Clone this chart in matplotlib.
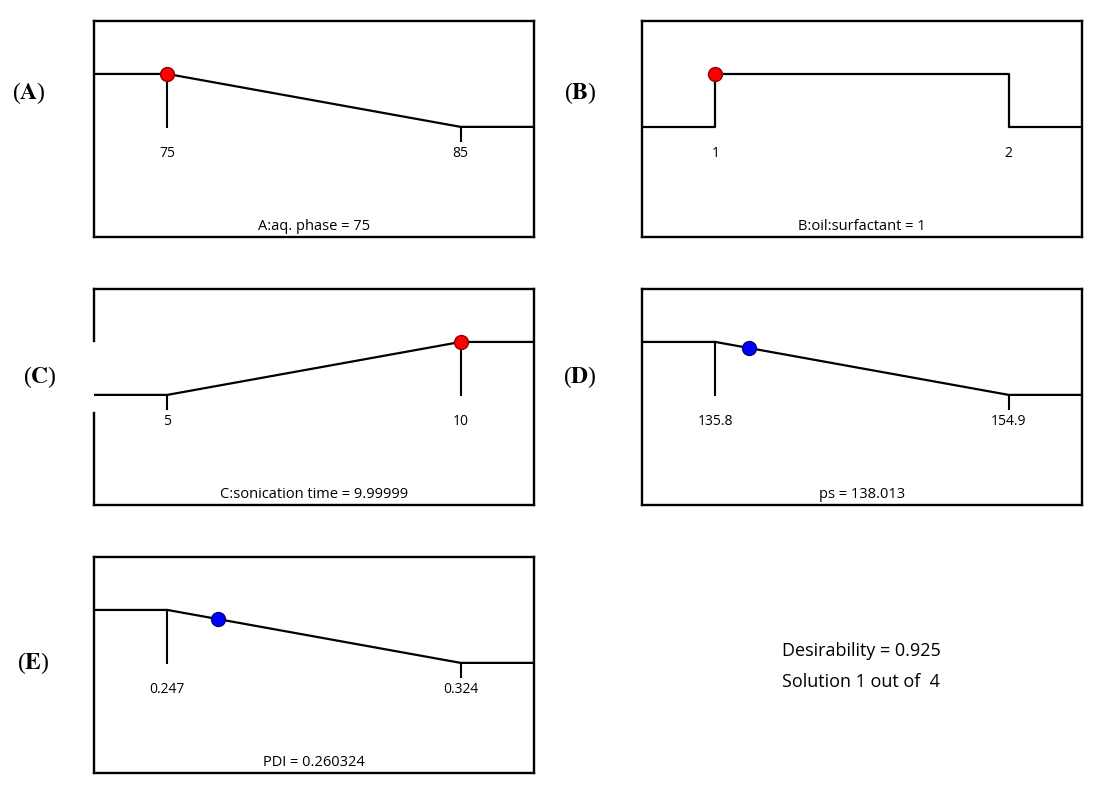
import numpy as np
import matplotlib
matplotlib.use('Agg')
import matplotlib.pyplot as plt

plt.rcParams['font.family'] = ['Open Sans', 'DejaVu Sans']
plt.rcParams['mathtext.fontset'] = 'stix'

# factors A-C and responses ps, PDI
names = ["A:aq. phase", "B:oil:surfactant", "C:sonication time", "ps", "PDI"]
panel_ids = ["A", "B", "C", "D", "E"]
lows = [75, 1, 5, 135.8, 0.247]
highs = [85, 2, 10, 154.9, 0.324]
low_labels = ["75", "1", "5", "135.8", "0.247"]
high_labels = ["85", "2", "10", "154.9", "0.324"]
values = [75, 1, 9.99999, 138.013, 0.260324]
value_labels = ["75", "1", "9.99999", "138.013", "0.260324"]
goals = ["minimize", "range", "maximize", "minimize", "minimize"]
dot_colors = ["red", "red", "red", "blue", "blue"]
desirability = "0.925"
n_solutions = 4

W, H = 1096, 789
fig = plt.figure(figsize=(W / 100, H / 100), dpi=100)

# box positions in pixels (left, top)
boxes = [(94, 21), (642, 21), (94, 289), (642, 289), (94, 557)]
bw, bh = 440, 216
letter_pos = [(29, 93), (580, 93), (40, 377), (580, 377), (33, 663)]

for i in range(5):
    left, top = boxes[i]
    ax = fig.add_axes([left / W, 1 - (top + bh) / H, bw / W, bh / H])
    lo, hi = lows[i], highs[i]
    pad = 0.25 * (hi - lo)
    xmin, xmax = lo - pad, hi + pad

    if goals[i] == "minimize":
        xs = [xmin, lo, hi, xmax]
        ys = [1, 1, 0, 0]
    elif goals[i] == "maximize":
        xs = [xmin, lo, hi, xmax]
        ys = [0, 0, 1, 1]
    else:
        xs = [xmin, lo, lo, hi, hi, xmax]
        ys = [0, 0, 1, 1, 0, 0]
    ax.plot(xs, ys, color='black', lw=1.6, zorder=2)

    # stems at the limits
    if goals[i] != "range":
        for lim in (lo, hi):
            yv = np.interp(lim, xs, ys)
            bottom = 0 if yv > 0.5 else -0.26
            ax.plot([lim, lim], [yv, bottom], color='black', lw=1.5, zorder=2)

    ax.text(lo, -0.5, low_labels[i], ha='center', va='center', fontsize=10)
    ax.text(hi, -0.5, high_labels[i], ha='center', va='center', fontsize=10)

    if goals[i] == "range":
        yd = 1
    else:
        yd = np.interp(values[i], xs, ys)
    edge = 'darkred' if dot_colors[i] == "red" else 'navy'
    ax.plot(values[i], yd, 'o', ms=10, mfc=dot_colors[i], mec=edge, mew=1.0,
            zorder=3, clip_on=False)

    ax.text(0.5, 0.05, f"{names[i]} = {value_labels[i]}", transform=ax.transAxes,
            ha='center', va='center', fontsize=10.5)

    ax.set_xlim(xmin, xmax)
    ax.set_ylim(-2.08, 2.0)
    ax.set_xticks([])
    ax.set_yticks([])
    for sp in ax.spines.values():
        sp.set_linewidth(1.7)

    if panel_ids[i] == "C":
        # left border is broken in the original figure
        ax.spines['left'].set_visible(False)
        ax.plot([0, 0], [0, 0.426], transform=ax.transAxes, color='black',
                lw=1.7, clip_on=False)
        ax.plot([0, 0], [0.76, 1], transform=ax.transAxes, color='black',
                lw=1.7, clip_on=False)

    lx, ly = letter_pos[i]
    fig.text(lx / W, 1 - ly / H, r"($\mathbf{" + panel_ids[i] + "}$)",
             ha='center', va='center', fontsize=17, family='Liberation Serif')

fig.text(861 / W, 1 - 651 / H, f"Desirability = {desirability}",
         ha='center', va='center', fontsize=13)
fig.text(861 / W, 1 - 682 / H, f"Solution 1 out of  {n_solutions}",
         ha='center', va='center', fontsize=13)

fig.savefig("out.png", dpi=100)
